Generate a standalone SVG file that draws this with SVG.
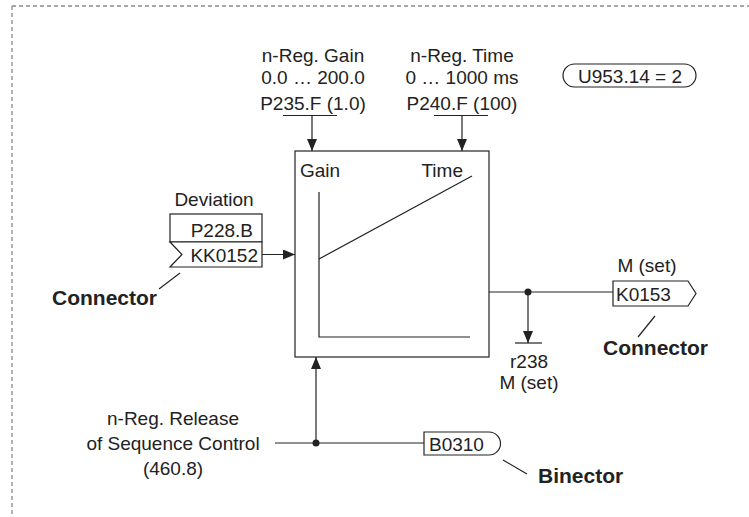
<svg xmlns="http://www.w3.org/2000/svg" width="749" height="517" viewBox="0 0 749 517">
<style>
text{font-family:"Liberation Sans",Arial,sans-serif;font-size:19px;fill:#222}
.b{font-weight:bold;font-size:21px}
.m{text-anchor:middle}
.ln{stroke:#222;stroke-width:1.2;fill:none}
.sh{stroke:#222;stroke-width:1.2;fill:#fff}
</style>
<defs>
<marker id="ah" viewBox="0 0 12 10" refX="12" refY="5" markerWidth="12" markerHeight="10" markerUnits="userSpaceOnUse" orient="auto">
<path d="M0,0 L12,5 L0,10 Z" fill="#222"/>
</marker>
</defs>
<path d="M12,6 H749 M12,6 V517" stroke="#8a8a8a" stroke-width="1.3" stroke-dasharray="4,3" fill="none"/>

<g id="controller">
<rect x="295" y="151" width="194" height="206" class="sh"/>
<text x="300" y="177">Gain</text>
<text x="463" y="177" text-anchor="end">Time</text>
<path d="M319,192 V337 H470" class="ln"/>
<path d="M319,259 L472,176" class="ln"/>
</g>

<g id="gain-param">
<text x="313" y="62" class="m">n-Reg. Gain</text>
<text x="313" y="84" class="m">0.0 … 200.0</text>
<text x="313" y="110" class="m">P235.F (1.0)</text>
</g>
<g id="time-param">
<text x="462" y="62" class="m">n-Reg. Time</text>
<text x="462" y="84" class="m">0 … 1000 ms</text>
<text x="462" y="110" class="m">P240.F (100)</text>
</g>
<g id="u953">
<rect x="563" y="64" width="133" height="23" rx="11.5" class="sh"/>
<text x="630" y="83" class="m">U953.14 = 2</text>
</g>

<g id="deviation">
<text x="214" y="206" class="m">Deviation</text>
<rect x="170" y="214" width="92" height="28" class="sh"/>
<text x="253" y="237" text-anchor="end">P228.B</text>
<path d="M170,242 H262 V267 H170 L182,254.5 Z" class="sh"/>
<text x="258" y="262" text-anchor="end">KK0152</text>
</g>
<g id="connector-label-1">
<text x="52" y="305" class="b">Connector</text>
</g>

<g id="k0153">
<text x="647" y="272" class="m">M (set)</text>
<path d="M613,281 H688 L696,293.5 L688,306 H613 Z" class="sh"/>
<text x="616" y="301">K0153</text>
</g>
<g id="connector-label-2">
<text x="603" y="355" class="b">Connector</text>
</g>
<g id="r238">
<path d="M515,343 H542" class="ln"/>
<text x="529" y="368" class="m">r238</text>
<text x="529" y="389" class="m">M (set)</text>
</g>

<g id="release">
<text x="173" y="425" class="m">n-Reg. Release</text>
<text x="173" y="450" class="m">of Sequence Control</text>
<text x="173" y="475" class="m">(460.8)</text>
</g>
<g id="b0310">
<path d="M424,432 H489 A11.5,11.5 0 0 1 489,455 H424 Z" class="sh"/>
<text x="429" y="451">B0310</text>
</g>
<g id="binector-label">
<text x="538" y="483" class="b">Binector</text>
</g>

<g id="connectors">
<path d="M283,115.5 H337 M312,115.5 V151" class="ln" marker-end="url(#ah)"/>
<path d="M434,115.5 H488 M462,115.5 V151" class="ln" marker-end="url(#ah)"/>
<path d="M262,254.5 H295" class="ln" marker-end="url(#ah)"/>
<path d="M489,292 H613" class="ln"/>
<circle cx="528" cy="292" r="3.5" fill="#222"/>
<path d="M528,292 V343" class="ln" marker-end="url(#ah)"/>
<path d="M275,443 H424" class="ln"/>
<circle cx="316" cy="443" r="3.5" fill="#222"/>
<path d="M316,443 V357" class="ln" marker-end="url(#ah)"/>
<path d="M180,273 L159,289" class="ln"/>
<path d="M655,316 L638,337" class="ln"/>
<path d="M503,460 L527,474" class="ln"/>
</g>
</svg>
